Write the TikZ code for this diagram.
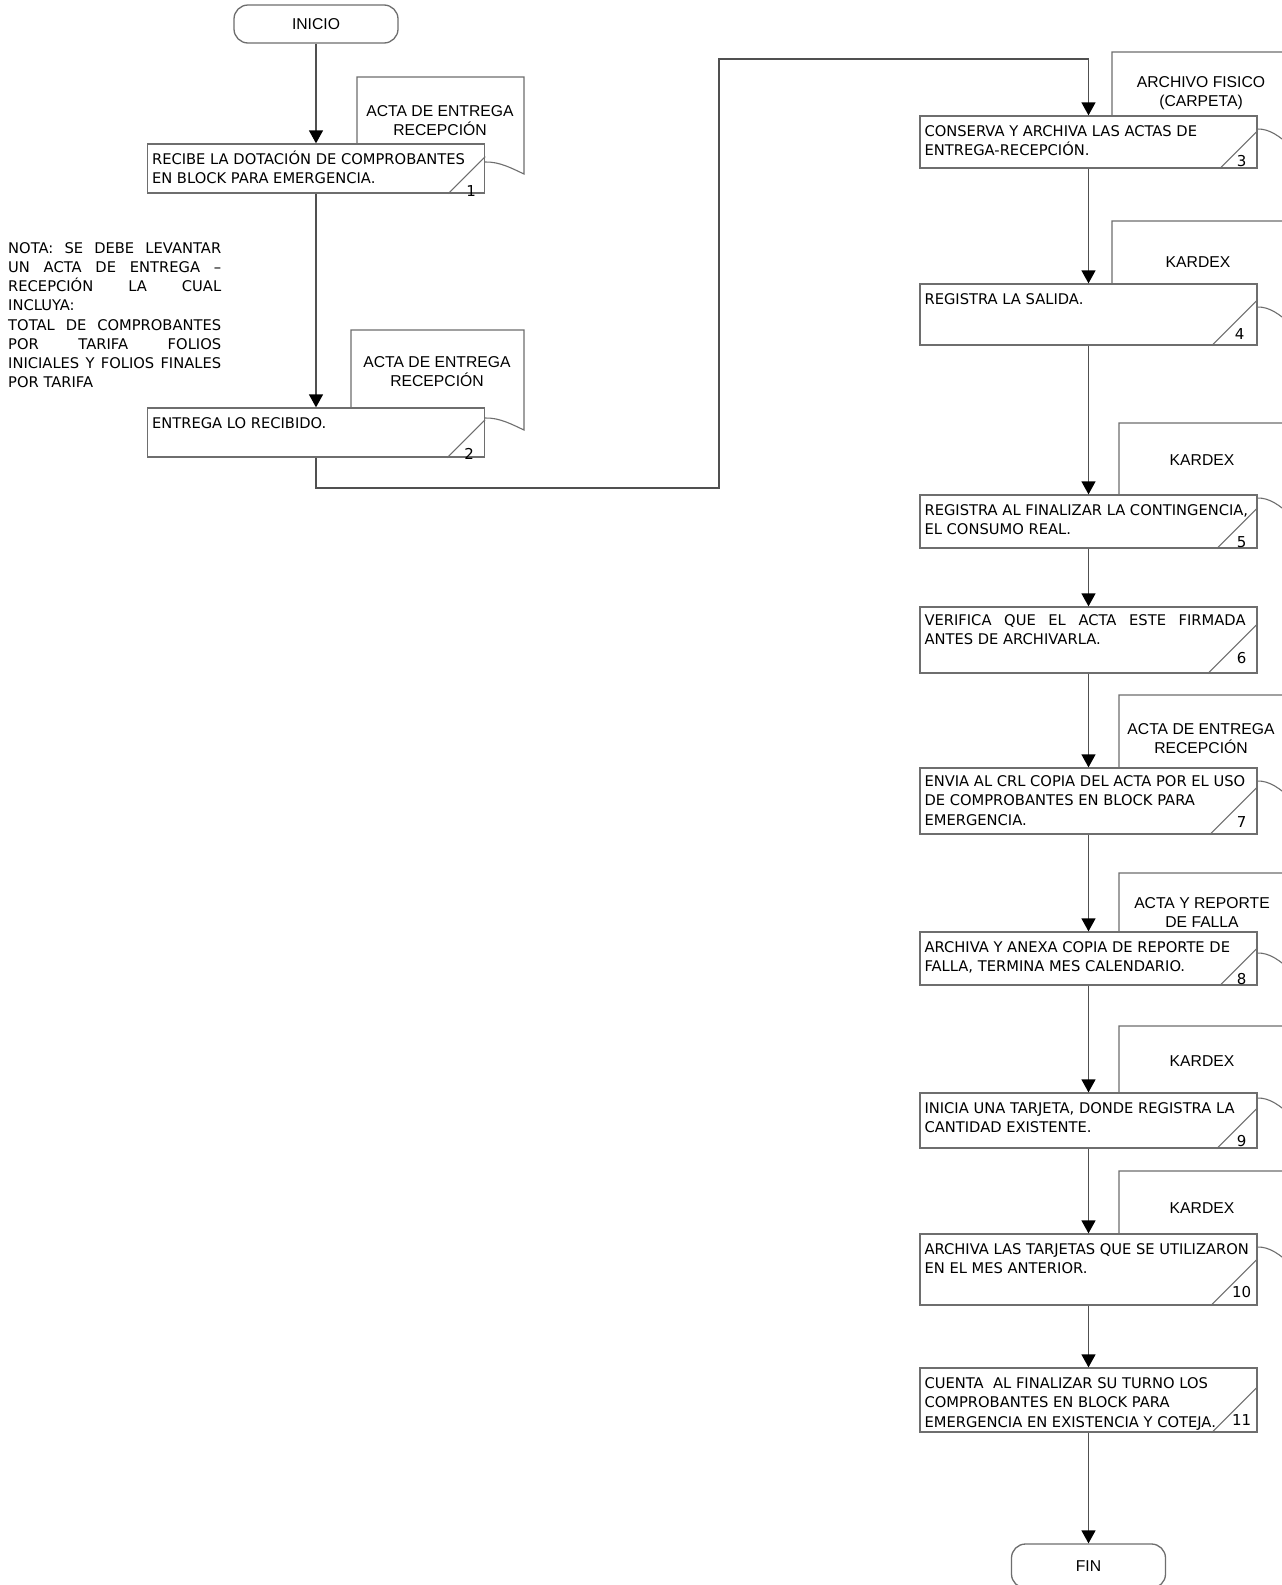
\documentclass[tikz,border=0pt]{standalone}
\usepackage{fontspec}
\setmainfont{DejaVu Sans}
\newfontfamily\labelfont{Liberation Sans}
\usetikzlibrary{arrows.meta,calc}

\definecolor{framegray}{HTML}{6E6E6E}
\definecolor{flowgray}{HTML}{505050}

\newcommand{\topstrut}{\rule{0pt}{14pt}}
% slash in the lower right corner of a step box and its number
\newcommand{\stepmark}[5]{%
  \draw[docline] ($(#1.south east)+(-#3,0)$) -- ($(#1.south east)+(0,-#3)$);
  \node[stepnum] (#1n) at ($(#1.south east)+(-#4,#5)$) {#2};}

\begin{document}
\begin{tikzpicture}[x=1pt,y=-1pt,
  stepbox/.style={draw=framegray,line width=1.3pt,rectangle,inner sep=0pt,minimum width=337pt},
  steptext/.style={anchor=north west,inner sep=0pt,align=left,font=\fontsize{14.7}{19.3}\selectfont},
  stepnum/.style={anchor=base,inner sep=0pt,font=\fontsize{15}{17}\selectfont},
  doclabel/.style={anchor=north,inner sep=0pt,align=center,font=\labelfont\fontsize{15.7}{19}\selectfont},
  docline/.style={draw=framegray,line width=1.1pt},
  terminal/.style={draw=framegray,line width=1.3pt,rectangle,rounded corners=14pt,inner sep=0pt,font=\labelfont\fontsize{15.7}{19}\selectfont},
  flow/.style={draw=flowgray,line width=1.3pt,-{Triangle[width=14pt,length=13pt,color=black,fill=black]}},
]
\useasboundingbox (0,0) rectangle (1282,1585);
\fill[white] (0,0) rectangle (1282,1585);
\clip (0,0) rectangle (1282,1585);

% ---------- documents (drawn first, partly hidden by the steps) ----------
\draw[docline] (357,144) -- (357,77) -- (524,77) -- (524,174) .. controls (513,169) and (500,161.5) .. (485,162);
\draw[docline] (351,408) -- (351,330) -- (524,330) -- (524,430) .. controls (513,425) and (500,417.5) .. (485,418);
\draw[docline] (1112,116) -- (1112,52) -- (1292,52) -- (1292,147) .. controls (1280,137) and (1270,128.5) .. (1257,129);
\draw[docline] (1112,284) -- (1112,221) -- (1292,221) -- (1292,325) .. controls (1280,315) and (1270,306.5) .. (1257,307);
\draw[docline] (1119,495) -- (1119,423) -- (1292,423) -- (1292,516) .. controls (1280,506) and (1270,497.5) .. (1257,498);
\draw[docline] (1119,768) -- (1119,695) -- (1292,695) -- (1292,799) .. controls (1280,789) and (1270,780.5) .. (1257,781);
\draw[docline] (1119,932) -- (1119,873) -- (1292,873) -- (1292,971) .. controls (1280,961) and (1270,952.5) .. (1257,953);
\draw[docline] (1119,1093) -- (1119,1026) -- (1292,1026) -- (1292,1116) .. controls (1280,1106) and (1270,1097.5) .. (1257,1098);
\draw[docline] (1119,1234) -- (1119,1171) -- (1292,1171) -- (1292,1265) .. controls (1280,1255) and (1270,1246.5) .. (1257,1247);

\node[doclabel] (d1) at (440,102) {\topstrut ACTA DE ENTREGA\\RECEPCIÓN};
\node[doclabel] (d2) at (437,353) {\topstrut ACTA DE ENTREGA\\RECEPCIÓN};
\node[doclabel] (d3) at (1201,73) {\topstrut ARCHIVO FISICO\\(CARPETA)};
\node[doclabel] (d4) at (1198,253) {\topstrut KARDEX};
\node[doclabel] (d5) at (1202,451) {\topstrut KARDEX};
\node[doclabel] (d7) at (1201,720) {\topstrut ACTA DE ENTREGA\\RECEPCIÓN};
\node[doclabel] (d8) at (1202,894) {\topstrut ACTA Y REPORTE\\DE FALLA};
\node[doclabel] (d9) at (1202,1052) {\topstrut KARDEX};
\node[doclabel] (d10) at (1202,1199) {\topstrut KARDEX};

% ---------- terminals ----------
\node[terminal,minimum width=164pt,minimum height=38pt] (start) at (316,24) {INICIO};
\node[terminal,minimum width=154pt,minimum height=44pt] (fin) at (1088.5,1566) {FIN};

% ---------- steps ----------
\node[stepbox,minimum height=49pt] (b1) at (316,168.5) {};
\node[stepbox,minimum height=49pt] (b2) at (316,432.5) {};
\node[stepbox,minimum height=52pt] (b3) at (1088.5,142) {};
\node[stepbox,minimum height=61pt] (b4) at (1088.5,314.5) {};
\node[stepbox,minimum height=53pt] (b5) at (1088.5,521.5) {};
\node[stepbox,minimum height=66pt] (b6) at (1088.5,640) {};
\node[stepbox,minimum height=66pt] (b7) at (1088.5,801) {};
\node[stepbox,minimum height=53pt] (b8) at (1088.5,958.5) {};
\node[stepbox,minimum height=55pt] (b9) at (1088.5,1120.5) {};
\node[stepbox,minimum height=71pt] (b10) at (1088.5,1269.5) {};
\node[stepbox,minimum height=64pt] (b11) at (1088.5,1400) {};

\node[steptext] (t1) at ($(b1.north west)+(5,7)$) {\topstrut RECIBE LA DOTACIÓN DE COMPROBANTES\\EN BLOCK PARA EMERGENCIA.};
\node[steptext] (t2) at ($(b2.north west)+(5,7)$) {\topstrut ENTREGA LO RECIBIDO.};
\node[steptext] (t3) at ($(b3.north west)+(5,7)$) {\topstrut CONSERVA Y ARCHIVA LAS ACTAS DE\\ENTREGA-RECEPCIÓN.};
\node[steptext] (t4) at ($(b4.north west)+(5,7)$) {\topstrut REGISTRA LA SALIDA.};
\node[steptext] (t5) at ($(b5.north west)+(5,7)$) {\topstrut REGISTRA AL FINALIZAR LA CONTINGENCIA,\\EL CONSUMO REAL.};
\node[steptext] (t6) at ($(b6.north west)+(5,5)$) {\topstrut\makebox[321pt][s]{VERIFICA QUE EL ACTA ESTE FIRMADA}\\ANTES DE ARCHIVARLA.};
\node[steptext] (t7) at ($(b7.north west)+(5,5)$) {\topstrut ENVIA AL CRL COPIA DEL ACTA POR EL USO\\DE COMPROBANTES EN BLOCK PARA\\EMERGENCIA.};
\node[steptext] (t8) at ($(b8.north west)+(5,7)$) {\topstrut ARCHIVA Y ANEXA COPIA DE REPORTE DE\\FALLA, TERMINA MES CALENDARIO.};
\node[steptext] (t9) at ($(b9.north west)+(5,7)$) {\topstrut INICIA UNA TARJETA, DONDE REGISTRA LA\\CANTIDAD EXISTENTE.};
\node[steptext] (t10) at ($(b10.north west)+(5,7)$) {\topstrut ARCHIVA LAS TARJETAS QUE SE UTILIZARON\\EN EL MES ANTERIOR.};
\node[steptext] (t11) at ($(b11.north west)+(5,7)$) {\topstrut CUENTA\ \ AL FINALIZAR SU TURNO LOS\\COMPROBANTES EN BLOCK PARA\\EMERGENCIA EN EXISTENCIA Y COTEJA.};

\stepmark{b1}{1}{37}{14}{3}
\stepmark{b2}{2}{38}{16}{2}
\stepmark{b3}{3}{38}{16}{-2}
\stepmark{b4}{4}{46}{18}{-6}
\stepmark{b5}{5}{41}{16}{-1}
\stepmark{b6}{6}{50}{16}{-10}
\stepmark{b7}{7}{48}{16}{-7}
\stepmark{b8}{8}{38}{16}{-1}
\stepmark{b9}{9}{41}{16}{-2}
\stepmark{b10}{10}{47}{16}{-8}
\stepmark{b11}{11}{46}{16}{-7}

% ---------- note ----------
\node[anchor=north west,inner sep=0pt,align=left,font=\fontsize{14.7}{19.2}\selectfont] (nota) at (8,239)
  {\topstrut\makebox[213pt][s]{NOTA: SE DEBE LEVANTAR}\\
   \makebox[213pt][s]{UN ACTA DE ENTREGA –}\\
   \makebox[213pt][s]{RECEPCIÓN LA CUAL}\\
   INCLUYA:\\
   \makebox[213pt][s]{TOTAL DE COMPROBANTES}\\
   \makebox[213pt][s]{POR TARIFA FOLIOS}\\
   \makebox[213pt][s]{INICIALES Y FOLIOS FINALES}\\
   POR TARIFA};

% ---------- connectors ----------
\coordinate (k1) at (719,488);
\coordinate (k2) at (719,59);
\draw[flow] (start.south) -- (b1.north);
\draw[flow] (b1.south) -- (b2.north);
\draw[flow] (b2.south) |- (k1) -- (k2) -| (b3.north);
\draw[flow] (b3.south) -- (b4.north);
\draw[flow] (b4.south) -- (b5.north);
\draw[flow] (b5.south) -- (b6.north);
\draw[flow] (b6.south) -- (b7.north);
\draw[flow] (b7.south) -- (b8.north);
\draw[flow] (b8.south) -- (b9.north);
\draw[flow] (b9.south) -- (b10.north);
\draw[flow] (b10.south) -- (b11.north);
\draw[flow] (b11.south) -- (fin.north);
\end{tikzpicture}
\end{document}
